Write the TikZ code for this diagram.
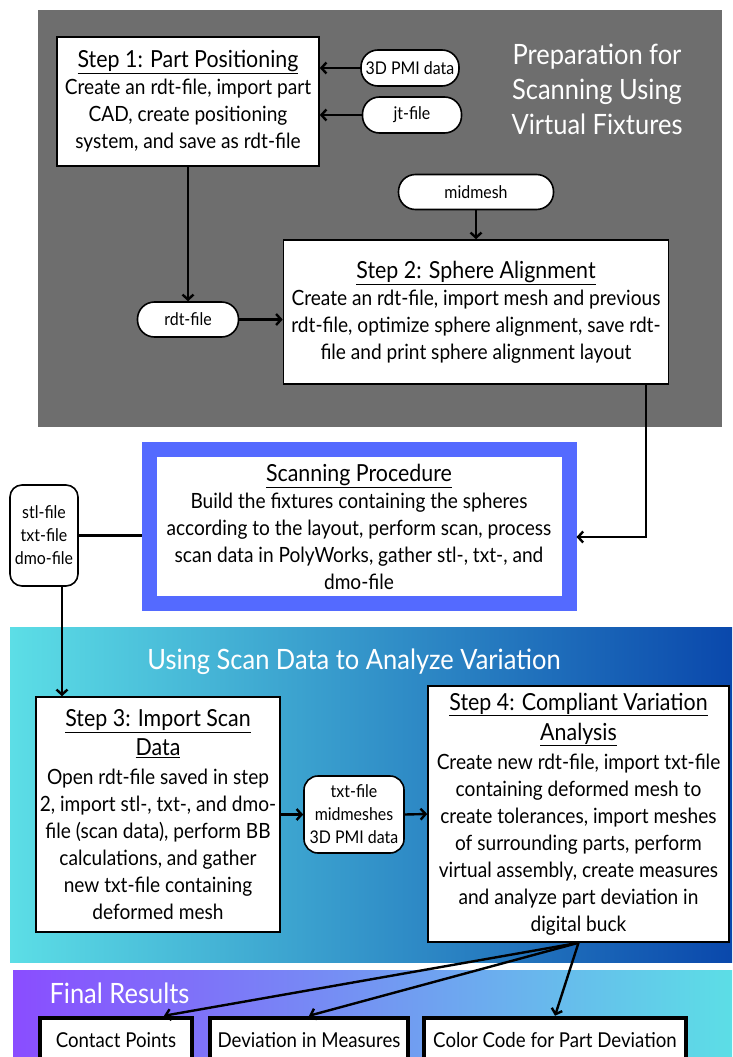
\documentclass[tikz,border=0pt]{standalone}
\usepackage{fontspec}
\setmainfont[FakeStretch=0.91]{Lato}
\usetikzlibrary{arrows.meta}

\definecolor{panelgray}{RGB}{110,110,110}
\definecolor{scanblue}{RGB}{84,106,255}
\definecolor{cyanish}{RGB}{92,222,230}
\definecolor{deepblue}{RGB}{10,72,172}
\definecolor{violet}{RGB}{138,77,255}

\newcommand{\stephead}[1]{{\fontsize{23.5}{30}\selectfont\underline{#1}}}

\begin{document}
\begin{tikzpicture}[x=1pt,y=-1pt,
    stepbox/.style ={draw, line width=1.6pt, fill=white, align=center, inner sep=0pt,
                     font=\fontsize{21}{27}\selectfont},
    pill/.style    ={draw, line width=1.6pt, fill=white, rounded corners=17pt, align=center,
                     inner sep=0pt, font=\fontsize{17.5}{23}\selectfont},
    result/.style  ={draw, line width=4.5pt, fill=white, inner sep=0pt,
                     font=\fontsize{20.5}{27}\selectfont},
    heading/.style ={white, align=center, font=\fontsize{28}{35}\selectfont},
    arr/.style     ={line width=2.4pt, -{Straight Barb[length=5pt,width=11pt]}},
    link/.style    ={line width=2.4pt}]
   \useasboundingbox (0,0) rectangle (732,1057);

   % panels
   \fill[panelgray] (38,10) rectangle (722,427);
   \shade[left color=cyanish, right color=deepblue] (10,627) rectangle (732,962);
   \shade[left color=violet, right color=cyanish] (13,970) rectangle (732,1057);

   % preparation
   \node[heading] (prep) at (597,89) {Preparation for\\Scanning Using\\Virtual Fixtures};
   \node[stepbox, minimum width=262, minimum height=129] (s1) at (188,101.5)
     {\stephead{Step 1: Part Positioning}\\Create an rdt-file, import part\\CAD, create positioning\\system, and save as rdt-file};
   \node[pill, minimum width=98, minimum height=36] (pmi) at (410,68) {3D PMI data};
   \node[pill, minimum width=99, minimum height=36] (jt) at (412,115) {jt-file};
   \node[pill, minimum width=155, minimum height=35] (mid) at (476,192) {midmesh};
   \node[pill, minimum width=101, minimum height=35] (rdt) at (188,319.5) {rdt-file};
   \node[stepbox, minimum width=385, minimum height=144] (s2) at (476,312)
     {\stephead{Step 2: Sphere Alignment}\\Create an rdt-file, import mesh and previous\\rdt-file, optimize sphere alignment, save rdt-\\file and print sphere alignment layout};
   \draw[arr] (pmi.west) -- (pmi.west -| s1.east);
   \draw[arr] (jt.west) -- (jt.west -| s1.east);
   \draw[arr] (s1) -- (rdt);
   \draw[arr] (mid) -- (s2);
   \draw[arr] (rdt.east) -- (rdt.east -| s2.west);

   % scanning
   \node[draw=scanblue, line width=15pt, fill=white, minimum width=420, minimum height=154,
         align=center, inner sep=0pt, font=\fontsize{21}{27}\selectfont] (scan) at (359,526.5)
     {\stephead{Scanning Procedure}\\Build the fixtures containing the spheres\\according to the layout, perform scan, process\\scan data in PolyWorks, gather stl-, txt-, and\\dmo-file};
   \node[pill, rounded corners=12pt, minimum width=68, minimum height=101] (files) at (44,535.5)
     {stl-file\\txt-file\\dmo-file};
   \coordinate (bend) at (646,537);
   \coordinate (drop) at (62,0);
   \draw[arr] (s2.south -| bend) |- (scan.east |- bend);
   \draw[link] (files.east) -- (files.east -| scan.west);

   % analysis
   \node[heading] (using) at (354,662) {Using Scan Data to Analyze Variation};
   \node[stepbox, minimum width=244, minimum height=235] (s3) at (158,814.5)
     {\stephead{Step 3: Import Scan}\\[2pt]\stephead{Data}\\[2pt]Open rdt-file saved in step\\2, import stl-, txt-, and dmo-\\file (scan data), perform BB\\calculations, and gather\\new txt-file containing\\deformed mesh};
   \node[pill, rounded corners=14pt, minimum width=100, minimum height=77] (data) at (354,814.5)
     {txt-file\\midmeshes\\3D PMI data};
   \node[stepbox, minimum width=301, minimum height=256] (s4) at (578.5,814)
     {\stephead{Step 4: Compliant Variation}\\[3pt]\stephead{Analysis}\\[2pt]Create new rdt-file, import txt-file\\containing deformed mesh to\\create tolerances, import meshes\\of surrounding parts, perform\\virtual assembly, create measures\\and analyze part deviation in\\digital buck};
   \draw[arr] (files.south -| drop) -- (s3.north -| drop);
   \draw[arr] (s3.east) -- (data.west);
   \draw[arr] (data.east) -- (s4.west);

   % results
   \node[heading, anchor=west] (final) at (46,993) {Final Results};
   \node[result, minimum width=152, minimum height=44] (contact) at (116,1040) {Contact Points};
   \node[result, minimum width=198, minimum height=44] (dev) at (309,1040) {Deviation in Measures};
   \node[result, minimum width=262, minimum height=44] (color) at (555,1040) {Color Code for Part Deviation};
   \draw[arr] (s4.south) -- ([xshift=48]contact.north);
   \draw[arr] (s4.south) -- (dev.north);
   \draw[arr] (s4.south) -- (color.north);
 \end{tikzpicture}
\end{document}
